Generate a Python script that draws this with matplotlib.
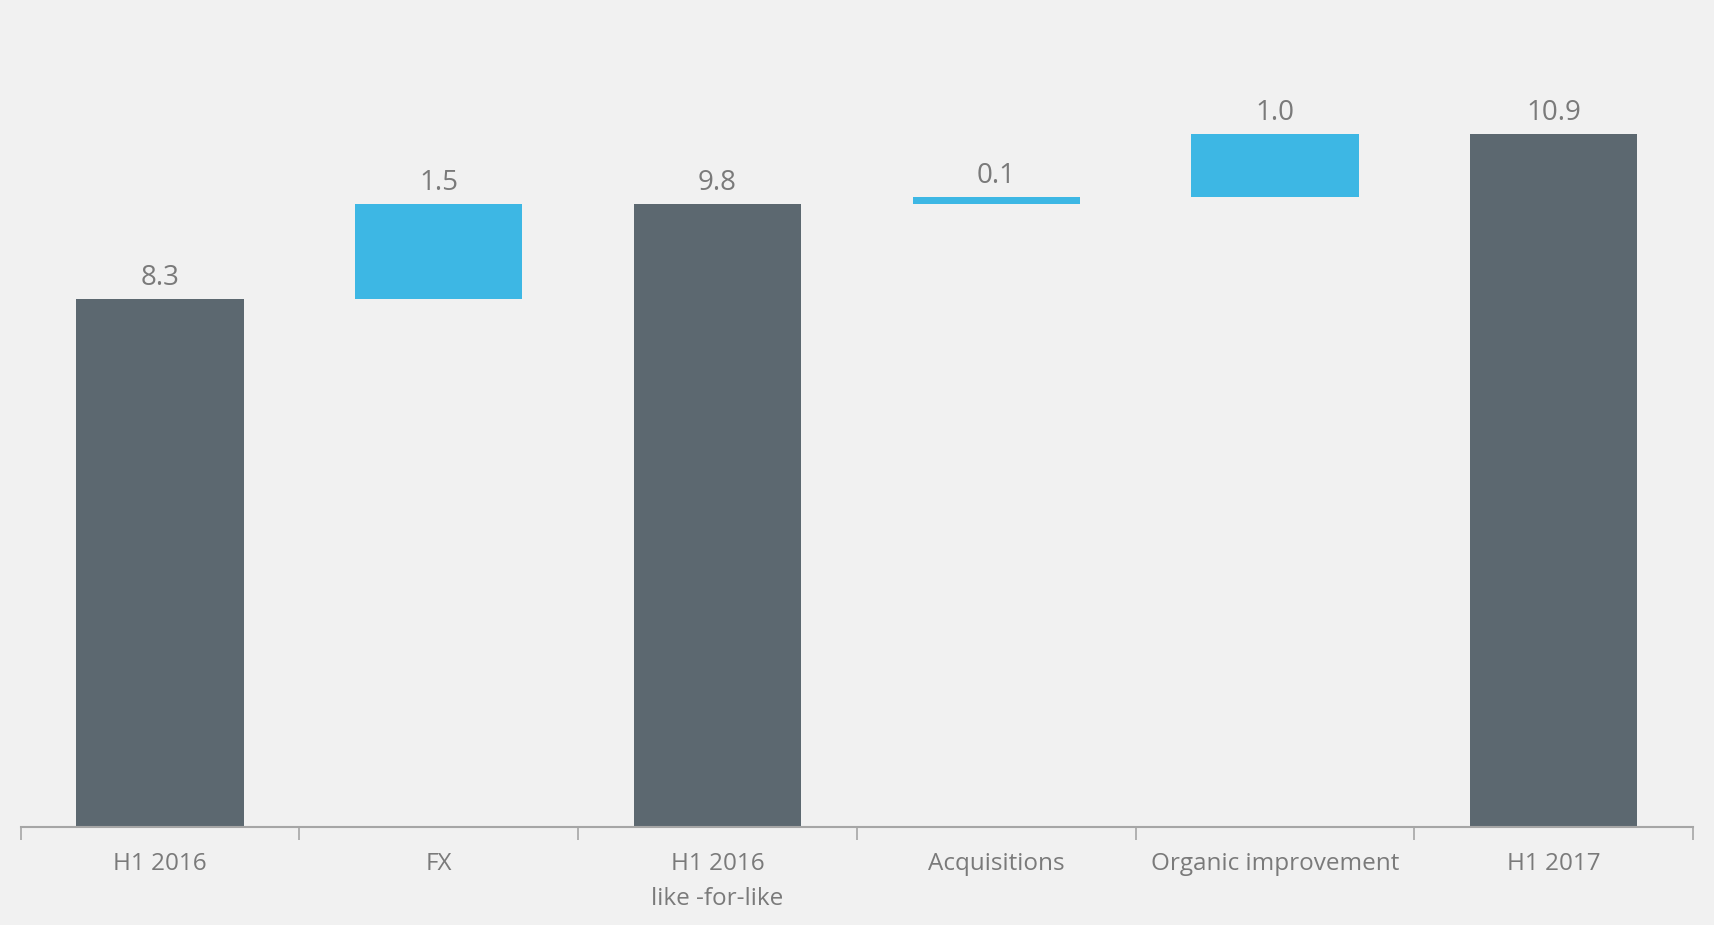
import numpy as np
import matplotlib.pyplot as plt
from matplotlib.ticker import FixedLocator

# 数据
categories = ['H1 2016', 'FX', 'H1 2016\nlike -for-like', 'Acquisitions',
              'Organic improvement', 'H1 2017']
values = [8.3, 1.5, 9.8, 0.1, 1.0, 10.9]
is_total = [True, False, True, False, False, True]

# 瀑布图的起点
bottoms = []
running = 0.0
for v, tot in zip(values, is_total):
    if tot:
        bottoms.append(0.0)
        running = v
    else:
        bottoms.append(running)
        running += v

plt.rcParams['font.family'] = ['Open Sans', 'DejaVu Sans']

bg = '#f1f1f1'
fig = plt.figure(figsize=(17.15, 9.25), dpi=100, facecolor=bg)
ax = fig.add_axes([0.0121, 0.106, 0.9751, 0.894], facecolor=bg)

x = np.arange(len(categories))
colors = ['#5c6870' if t else '#3db7e4' for t in is_total]
bars = ax.bar(x, values, bottom=bottoms, width=0.6, color=colors, linewidth=0)

# 数值标签
for xi, v, b in zip(x, values, bottoms):
    ax.annotate(f'{v:.1f}', (xi, b + v), xytext=(0, 5), textcoords='offset points',
                ha='center', va='bottom', fontsize=20, color='#7a7a7a')

ax.set_xlim(-0.5, len(categories) - 0.5)
ax.set_ylim(0, 13.0)
ax.set_yticks([])
for s in ['top', 'right', 'left']:
    ax.spines[s].set_visible(False)
ax.spines['bottom'].set_color('#a6a6a6')
ax.spines['bottom'].set_linewidth(1.5)

ax.set_xticks(x)
ax.set_xticklabels(categories, fontsize=17.5, color='#7a7a7a', linespacing=1.6)
ax.tick_params(axis='x', which='major', length=0, pad=18)
ax.xaxis.set_minor_locator(FixedLocator(np.arange(-0.5, len(categories), 1.0)))
ax.tick_params(axis='x', which='minor', length=9, width=1.2, color='#a6a6a6')

plt.savefig('out.png', dpi=100, facecolor=bg)
